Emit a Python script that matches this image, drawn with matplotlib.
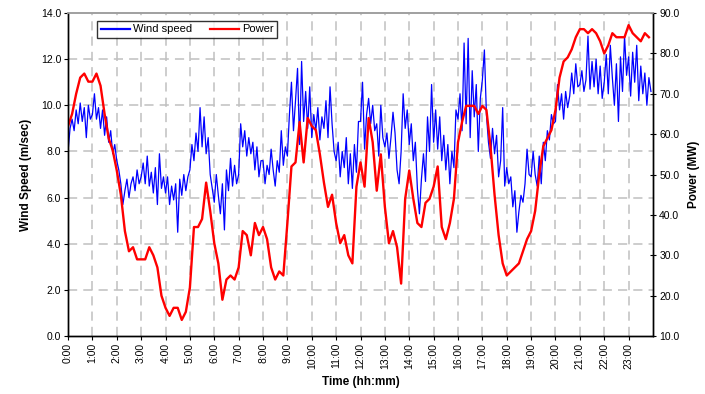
import matplotlib as mpl
mpl.use('Agg')
import matplotlib.pyplot as plt
import numpy as np

plt.rcParams['font.family'] = ['Liberation Sans', 'DejaVu Sans']

# wind speed (m/sec), one value every 5 minutes, one row per hour
wind_speed = [
    8.0, 9.0, 9.4, 8.9, 9.8, 9.2, 10.1, 9.3, 9.9, 8.6, 10.0, 9.4,
    9.6, 10.5, 9.4, 9.9, 9.0, 9.8, 8.7, 9.5, 8.4, 8.9, 7.9, 8.3,
    7.6, 7.2, 6.6, 5.7, 6.3, 6.8, 6.0, 6.6, 6.9, 6.3, 7.2, 6.6,
    6.9, 7.5, 6.6, 7.8, 6.5, 7.1, 6.2, 7.3, 5.7, 7.9, 6.4, 6.9,
    6.2, 6.9, 5.7, 6.5, 5.9, 6.6, 4.5, 6.8, 6.1, 7.0, 6.3, 6.9,
    7.2, 8.3, 7.6, 8.8, 8.0, 9.9, 8.2, 9.5, 7.9, 8.6, 7.0, 6.4,
    5.8, 7.0, 6.1, 5.3, 6.6, 4.6, 7.2, 6.3, 7.7, 6.5, 7.4, 6.6,
    7.0, 9.2, 8.2, 8.9, 7.8, 8.6, 7.9, 8.4, 7.2, 8.2, 6.9, 7.6,
    7.6, 6.6, 7.4, 7.0, 8.1, 7.2, 6.5, 7.6, 7.1, 8.9, 7.4, 8.2,
    7.8, 9.6, 11.0, 8.9, 10.2, 11.6, 8.3, 11.9, 9.3, 10.6, 9.0, 10.8,
    8.6, 9.6, 8.9, 9.9, 8.5, 9.5, 9.0, 10.2, 8.6, 10.8, 9.2, 8.0,
    7.6, 8.4, 6.9, 8.0, 7.3, 8.6, 6.6, 7.9, 6.4, 8.3, 7.1, 9.3,
    9.3, 11.0, 8.1, 9.6, 10.3, 9.2, 10.0, 8.9, 9.2, 7.8, 10.0, 8.6,
    8.2, 8.8, 7.7, 8.6, 9.7, 8.8, 7.2, 6.6, 8.0, 10.5, 9.0, 9.8,
    8.3, 9.2, 7.6, 8.4, 6.4, 5.3, 6.8, 7.9, 6.7, 9.5, 8.0, 10.9,
    8.4, 9.8, 8.1, 9.5, 7.6, 8.7, 7.2, 8.3, 6.6, 8.0, 7.3, 9.8,
    9.4, 10.5, 8.9, 12.7, 9.2, 12.9, 8.6, 11.5, 9.5, 10.9, 8.0, 10.3,
    11.1, 12.4, 9.6, 8.4, 7.7, 9.0, 7.9, 8.7, 6.9, 7.6, 9.9, 6.5,
    7.3, 6.6, 6.9, 5.6, 6.3, 4.5, 5.4, 6.1, 5.8, 6.6, 8.1, 7.0,
    6.9, 8.0, 7.0, 6.5, 7.8, 6.6, 8.4, 7.6, 8.9, 8.5, 9.6, 9.2,
    9.3, 10.9, 9.8, 10.5, 9.4, 10.6, 9.9, 10.4, 11.4, 10.5, 11.8, 10.8,
    10.9, 11.5, 10.6, 11.1, 13.0, 10.7, 11.9, 10.8, 12.0, 10.5, 11.7, 10.3,
    11.0, 12.2, 10.5, 12.6, 11.2, 10.0, 11.8, 9.3, 12.1, 10.6, 13.0, 11.3,
    12.1, 10.4, 12.3, 11.0, 12.6, 10.2, 11.7, 10.5, 11.4, 10.0, 11.2, 10.6,
]

# power (MW), one value every 10 minutes, one row per hour
power = [
    62, 65, 70, 74, 75, 73,
    73, 75, 72, 65, 59, 56,
    51, 45, 36, 31, 32, 29,
    29, 29, 32, 30, 27, 20,
    17, 15, 17, 17, 14, 16,
    22, 37, 37, 39, 48, 41,
    33, 28, 19, 24, 25, 24,
    27, 36, 35, 30, 38, 35,
    37, 34, 27, 24, 26, 25,
    38, 52, 53, 63, 53, 64,
    62, 61, 55, 48, 42, 45,
    38, 33, 35, 30, 28, 47,
    53, 47, 64, 58, 46, 55,
    42, 33, 36, 32, 23, 44,
    51, 44, 38, 37, 43, 44,
    47, 52, 37, 34, 38, 44,
    58, 63, 67, 67, 67, 65,
    67, 66, 57, 45, 35, 28,
    25, 26, 27, 28, 31, 34,
    36, 41, 50, 57, 59, 61,
    66, 74, 78, 79, 81, 84,
    86, 86, 85, 86, 85, 83,
    80, 82, 85, 84, 84, 84,
    87, 85, 84, 83, 85, 84,
]

hour_labels = ['%d:00' % h for h in range(24)]

t_wind = np.arange(len(wind_speed)) * 5 / 60.0
t_power = np.arange(len(power)) * 10 / 60.0

fig = plt.figure(figsize=(7.05, 3.94), dpi=100)
ax1 = fig.add_axes([0.0965, 0.147, 0.8297, 0.82])
ax2 = ax1.twinx()

l1, = ax1.plot(t_wind, wind_speed, color='#0000ff', lw=0.9, label='Wind speed')
l2, = ax2.plot(t_power, power, color='#ff0000', lw=1.7, label='Power')

ax1.set_xlim(0, 24)
ax1.set_ylim(0, 14)
ax2.set_ylim(10, 90)

ax1.set_xticks(range(24))
ax1.set_xticklabels(hour_labels, rotation=90, fontsize=7.5)
ax1.set_yticks(np.arange(0, 15, 2))
ax1.set_yticklabels(['%.1f' % v for v in np.arange(0, 15, 2)], fontsize=7.5)
ax2.set_yticks(np.arange(10, 91, 10))
ax2.set_yticklabels(['%.1f' % v for v in np.arange(10, 91, 10)], fontsize=7.5)

# dashed grid
for h in range(1, 24):
    ax1.axvline(h, color='#c0c0c0', lw=1.1, ls=(0, (6, 4)), zorder=0)
for v in range(2, 14, 2):
    ax1.axhline(v, color='#c0c0c0', lw=1.1, ls=(0, (6, 4)), zorder=0)

ax1.tick_params(axis='both', direction='out', length=3, width=0.8, pad=2)
ax2.tick_params(axis='y', direction='inout', length=5, width=0.8, pad=2)

for ax in (ax1, ax2):
    ax.spines['top'].set_color('#a0a0a0')
    ax.spines['top'].set_linewidth(1.2)
    for s in ('left', 'right', 'bottom'):
        ax.spines[s].set_linewidth(1.0)

ax1.set_xlabel('Time (hh:mm)', fontsize=8.5, fontweight='bold', labelpad=5)
ax1.set_ylabel('Wind Speed (m/sec)', fontsize=8.5, fontweight='bold', labelpad=6)
ax2.set_ylabel('Power (MW)', fontsize=8.5, fontweight='bold', labelpad=6)

leg = ax2.legend(handles=[l1, l2], ncol=2, loc='upper left',
                 bbox_to_anchor=(0.05, 0.975), fontsize=8, frameon=True,
                 fancybox=False, handlelength=2.6, handletextpad=0.3,
                 columnspacing=1.6, borderpad=0.3, borderaxespad=0)
leg.get_frame().set_edgecolor('black')
leg.get_frame().set_linewidth(1.0)
for line in leg.get_lines():
    line.set_linewidth(1.6)

plt.savefig('out.png', dpi=100)
